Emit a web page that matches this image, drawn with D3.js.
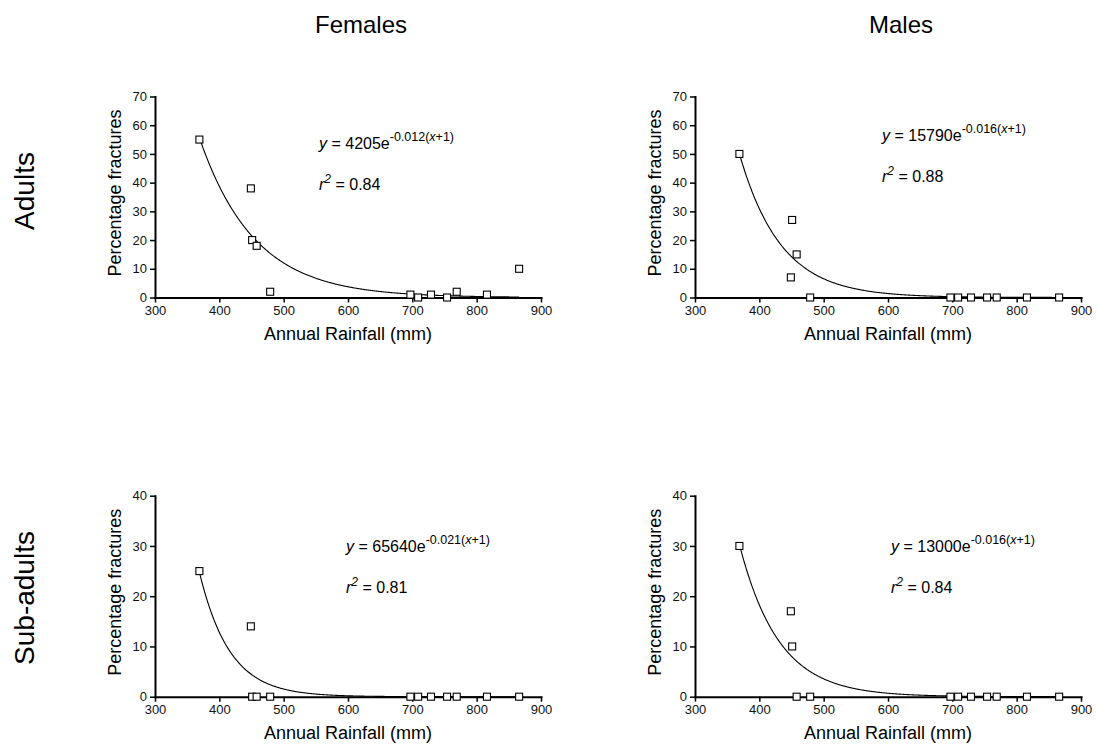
<!DOCTYPE html>
<html>
<head>
<meta charset="utf-8">
<script src="https://cdn.jsdelivr.net/npm/d3@7/dist/d3.min.js"></script>
<style>
  html, body { margin: 0; padding: 0; background: #fff; }
  svg { display: block; font-family: "Liberation Sans", Arial, Helvetica, sans-serif; }
</style>
</head>
<body>
<svg id="chart" width="1097" height="755"></svg>
<script>
// Annual rainfall (mm) at each of the twelve sites
const rainfall = [369, 449, 451, 458, 479, 697, 709, 729, 754, 769, 816, 866];

// Percentage of individuals with fractures at each site
const femaleAdults    = [55, 38, 20, 18, 2, 1, 0, 1, 0, 2, 1, 10];
const maleAdults      = [50, 7, 27, 15, 0, 0, 0, 0, 0, 0, 0, 0];
const femaleSubadults = [25, 14, 0, 0, 0, 0, 0, 0, 0, 0, 0, 0];
const maleSubadults   = [30, 17, 10, 0, 0, 0, 0, 0, 0, 0, 0, 0];

// Exponential fits y = A * exp(-k (x + 1)), one per panel
const fitAmplitude = [4205, 15790, 65640, 13000];
const fitRate      = [0.01169, 0.01555, 0.0213, 0.01638];
const fitR2        = [0.84, 0.88, 0.81, 0.84];

// Axis ticks
const xTicks      = [300, 400, 500, 600, 700, 800, 900];
const yTicksAdult = [0, 10, 20, 30, 40, 50, 60, 70];
const yTicksSub   = [0, 10, 20, 30, 40];

const columnTitles = ["Females", "Males"];
const rowTitles    = ["Adults", "Sub-adults"];
const xTitle = "Annual Rainfall (mm)";
const yTitle = "Percentage fractures";

// Panel layout (pixel geometry only); eq = baseline of the equation, relative to the plot area
const panels = [
  { series: femaleAdults,    fit: 0, yTicks: yTicksAdult, left: 155, top: 96.5,  eq: [164, 52] },
  { series: maleAdults,      fit: 1, yTicks: yTicksAdult, left: 695, top: 96.5,  eq: [187, 44] },
  { series: femaleSubadults, fit: 2, yTicks: yTicksSub,   left: 155, top: 495.7, eq: [191, 56] },
  { series: maleSubadults,   fit: 3, yTicks: yTicksSub,   left: 695, top: 495.7, eq: [196, 56] }
];
const plotW = 386, plotH = 201;
const lineGap = 41;

const svg = d3.select("#chart");

panels.forEach(p => {
  const g = svg.append("g").attr("transform", `translate(${p.left},${p.top})`);
  const yMax = p.yTicks[p.yTicks.length - 1];
  const x = d3.scaleLinear().domain([xTicks[0], xTicks[xTicks.length - 1]]).range([0, plotW]);
  const y = d3.scaleLinear().domain([0, yMax]).range([plotH, 0]);

  // fitted curve over the observed rainfall range
  const A = fitAmplitude[p.fit], k = fitRate[p.fit];
  const xs = d3.range(d3.min(rainfall), d3.max(rainfall) + 0.5, 1);
  const line = d3.line().x(d => x(d)).y(d => y(A * Math.exp(-k * (d + 1))));
  g.append("path")
    .datum(xs)
    .attr("d", line)
    .attr("fill", "none")
    .attr("stroke", "#000")
    .attr("stroke-width", 1.1);

  // axes
  const xAxis = g.append("g")
    .attr("transform", `translate(0,${plotH})`)
    .call(d3.axisBottom(x).tickValues(xTicks).tickSize(5).tickSizeOuter(0).tickPadding(3));
  const yAxis = g.append("g")
    .call(d3.axisLeft(y).tickValues(p.yTicks).tickSize(5).tickSizeOuter(0).tickPadding(3));
  [xAxis, yAxis].forEach(a => {
    a.select(".domain").attr("stroke", "#000").attr("stroke-width", 2).attr("stroke-linecap", "square");
    a.selectAll(".tick line").attr("stroke", "#000").attr("stroke-width", 1.5);
    a.selectAll(".tick text").attr("fill", "#111").style("font-size", "13px")
      .style("font-family", "'Liberation Sans', Arial, sans-serif");
  });

  // data points: open squares
  const s = 7;
  g.selectAll("rect.pt")
    .data(p.series.map((v, i) => [rainfall[i], v]))
    .join("rect")
    .attr("class", "pt")
    .attr("x", d => x(d[0]) - s / 2)
    .attr("y", d => y(d[1]) - s / 2)
    .attr("width", s)
    .attr("height", s)
    .attr("fill", "#fff")
    .attr("stroke", "#000")
    .attr("stroke-width", 1.1);

  // axis titles
  g.append("text")
    .attr("x", plotW / 2)
    .attr("y", plotH + 42)
    .attr("text-anchor", "middle")
    .style("font-size", "18px")
    .text(xTitle);
  g.append("text")
    .attr("transform", `translate(-34,${plotH / 2 - 4}) rotate(-90)`)
    .attr("text-anchor", "middle")
    .style("font-size", "18px")
    .text(yTitle);

  // fit equation
  const eq = g.append("text")
    .attr("x", p.eq[0])
    .attr("y", p.eq[1])
    .style("font-size", "16px");
  eq.append("tspan").style("font-style", "italic").text("y");
  eq.append("tspan").text(` = ${A}e`);
  const sup = eq.append("tspan").attr("dy", -8).style("font-size", "12.5px");
  sup.append("tspan").text(`-${k.toFixed(3)}(`);
  sup.append("tspan").style("font-style", "italic").text("x");
  sup.append("tspan").text("+1)");

  const r2 = g.append("text")
    .attr("x", p.eq[0])
    .attr("y", p.eq[1] + lineGap)
    .style("font-size", "16px");
  r2.append("tspan").style("font-style", "italic").text("r");
  r2.append("tspan").attr("dy", -7).style("font-size", "12px").style("font-style", "italic").text("2");
  r2.append("tspan").attr("dy", 7).text(` = ${fitR2[p.fit].toFixed(2)}`);
});

// column and row headings
[361, 901].forEach((cx, i) => {
  svg.append("text")
    .attr("x", cx).attr("y", 33)
    .attr("text-anchor", "middle")
    .style("font-size", "24px")
    .text(columnTitles[i]);
});
[191, 598].forEach((cy, i) => {
  svg.append("text")
    .attr("transform", `translate(34,${cy}) rotate(-90)`)
    .attr("text-anchor", "middle")
    .style("font-size", "28px")
    .text(rowTitles[i]);
});
</script>
</body>
</html>
